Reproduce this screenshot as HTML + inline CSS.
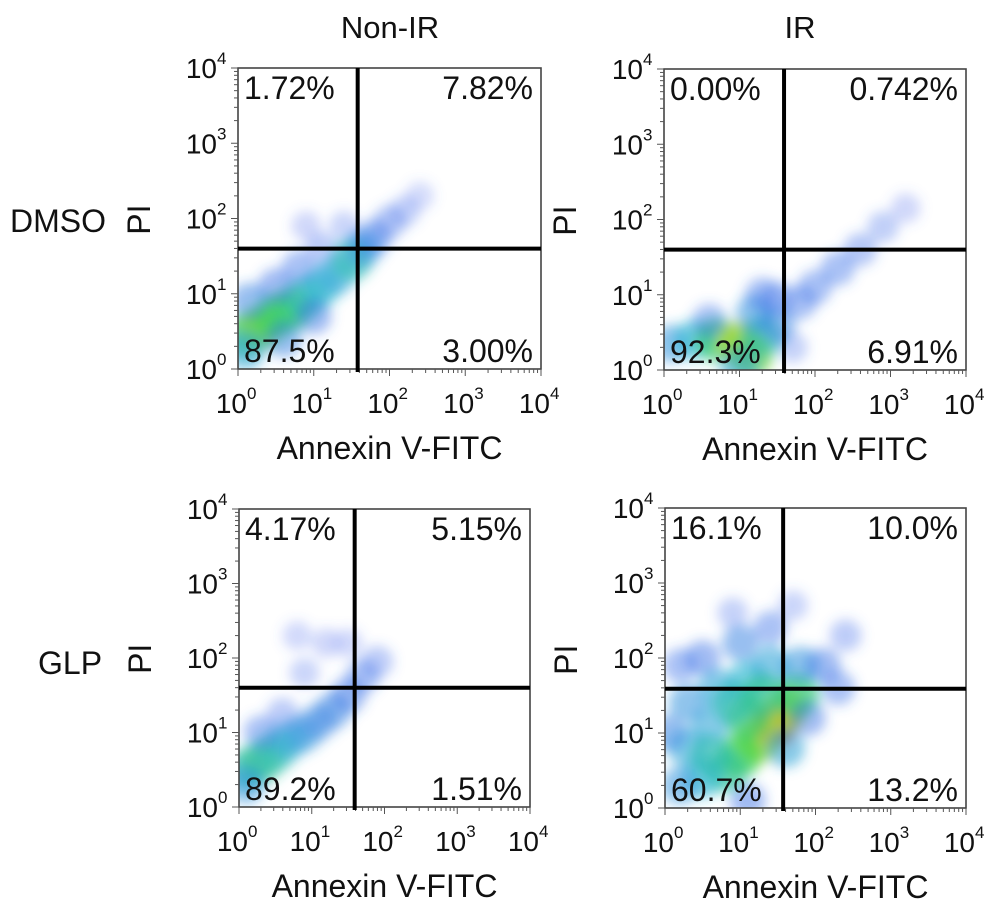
<!DOCTYPE html>
<html><head><meta charset="utf-8">
<style>
html,body{margin:0;padding:0;background:#fff;}
svg{display:block;font-family:"Liberation Sans",Arial,sans-serif;}
</style></head>
<body>
<svg id="fig" width="998" height="909" viewBox="0 0 998 909" xmlns="http://www.w3.org/2000/svg">
<defs>
<filter id="blur" x="-50%" y="-50%" width="200%" height="200%"><feGaussianBlur stdDeviation="6"/></filter>
</defs>
<text x="390" y="38" font-size="31" text-anchor="middle" fill="#111">Non-IR</text>
<text x="800" y="38" font-size="31" text-anchor="middle" fill="#111">IR</text>
<text x="10" y="232" font-size="32" fill="#111">DMSO</text>
<text x="38" y="674" font-size="32" fill="#111">GLP</text>
</svg>
<script>
// ---- data: density blobs (log10 Annexin, log10 PI, relative density) ----
const tlX=[0.1,0.3,0.5,0.7,0.9,1.1,1.3,1.5,1.65,1.8,2.0,2.2,0.15,0.5,0.8,1.1,0.9,1.4,0.1,0.6,1.0,2.4];
const tlY=[0.45,0.55,0.7,0.8,0.95,1.1,1.25,1.45,1.6,1.75,1.95,2.1,0.9,1.1,1.35,1.6,1.9,1.9,0.25,0.4,0.7,2.3];
const tlD=[0.7,0.8,0.75,0.7,0.6,0.55,0.5,0.6,0.45,0.35,0.25,0.15,0.4,0.35,0.3,0.2,0.1,0.12,0.5,0.4,0.35,0.06];

const trX=[0.1,0.4,0.7,1.0,1.15,1.3,1.2,1.5,1.5,1.8,2.0,2.3,2.6,2.9,3.2,1.0,0.6,1.7,1.3];
const trY=[0.35,0.4,0.4,0.35,0.2,0.45,0.75,0.6,0.95,0.9,1.1,1.35,1.6,1.9,2.15,0.05,0.65,0.3,1.0];
const trD=[0.45,0.55,0.7,0.85,0.8,0.6,0.45,0.4,0.3,0.3,0.3,0.3,0.25,0.18,0.1,0.5,0.3,0.15,0.3];

const blX=[0.1,0.3,0.5,0.7,0.9,1.1,1.3,1.5,1.7,1.9,0.3,0.6,0.9,1.2,0.8,1.5,0.1];
const blY=[0.5,0.6,0.75,0.9,1.0,1.15,1.3,1.5,1.75,1.95,1.0,1.25,1.8,2.2,2.3,2.2,0.3];
const blD=[0.6,0.65,0.6,0.5,0.45,0.4,0.4,0.35,0.3,0.2,0.3,0.2,0.12,0.1,0.08,0.08,0.45];

const brX=[1.45,1.6,1.75,1.25,1.0,0.8,0.5,0.2,0.3,0.6,0.3,0.7,1.1,1.4,1.8,2.1,2.3,1.9,2.4,1.0,0.5,0.2,1.4,0.9,1.7,1.1,0.05,1.1,0.9,1.3,0.6,1.6];
const brY=[1.1,1.3,1.5,0.9,0.7,0.5,0.4,0.3,0.8,1.1,1.4,1.6,1.7,1.9,1.9,1.9,1.6,1.2,2.3,2.2,2.0,1.9,2.4,2.6,2.7,0.1,1.0,1.2,1.4,1.5,0.7,0.8];
const brD=[1.0,0.85,0.7,0.85,0.75,0.65,0.55,0.45,0.5,0.5,0.45,0.5,0.55,0.5,0.45,0.35,0.3,0.35,0.2,0.4,0.35,0.3,0.3,0.15,0.12,0.35,0.4,0.7,0.6,0.65,0.6,0.5];

const tickLabels=["0","1","2","3","4"];
const tlPct=["1.72%","7.82%","87.5%","3.00%"];
const trPct=["0.00%","0.742%","92.3%","6.91%"];
const blPct=["4.17%","5.15%","89.2%","1.51%"];
const brPct=["16.1%","10.0%","60.7%","13.2%"];
// gate positions in log10 units [x, y]
const tlGate=[1.58,1.6];
const trGate=[1.59,1.6];
const blGate=[1.59,1.6];
const brGate=[1.57,1.59];

const NS="http://www.w3.org/2000/svg";
const svg=document.getElementById('fig');
const defs=svg.querySelector('defs');
function mk(tag,attrs,parent){const e=document.createElementNS(NS,tag);for(const k in attrs)e.setAttribute(k,attrs[k]);(parent||svg).appendChild(e);return e;}

function cmap(d){
  const stops=[[0,[90,110,240]],[0.35,[50,110,230]],[0.55,[40,180,210]],[0.75,[60,210,80]],[0.9,[225,220,40]],[1,[225,60,30]]];
  for(let i=1;i<stops.length;i++){if(d<=stops[i][0]){const a=stops[i-1],b=stops[i];const t=(d-a[0])/(b[0]-a[0]);
    const c=a[1].map((v,j)=>Math.round(v+(b[1][j]-v)*t));return `rgb(${c[0]},${c[1]},${c[2]})`;}}
  return 'rgb(225,60,30)';
}

let pid=0;
function panel(p){
  const g=mk('g',{});
  
  
  const sx=v=>p.l+(p.r-p.l)*v/4;
  const sy=v=>p.b-(p.b-p.t)*v/4;
  const cid='clip'+(pid++);
  const cp=mk('clipPath',{id:cid},defs);
  mk('rect',{x:p.l,y:p.t,width:p.r-p.l,height:p.b-p.t},cp);
  const clipG=mk('g',{'clip-path':`url(#${cid})`},g);
  const cloud=mk('g',{filter:'url(#blur)'},clipG);
  
  
  for(let i=0;i<p.xs.length;i++){
    const d=p.ds[i];
    const c=mk('circle',{cx:sx(p.xs[i]),cy:sy(p.ys[i]),r:10+12*Math.min(1,d+0.3),fill:cmap(d),'fill-opacity':Math.min(0.9,0.2+d*0.75)},cloud);
    
    
  }
  const fr=mk('rect',{x:p.l,y:p.t,width:p.r-p.l,height:p.b-p.t,fill:'none',stroke:'#444','stroke-width':1.6},g);
  
  
  for(let k=0;k<4;k++){
    for(let m=1;m<10;m++){
      const v=k+Math.log10(m);
      const len=m===1?7:4;
      mk('line',{x1:sx(v),x2:sx(v),y1:p.b,y2:p.b+len,stroke:'#555','stroke-width':1},g);
      mk('line',{x1:p.l-len,x2:p.l,y1:sy(v),y2:sy(v),stroke:'#555','stroke-width':1},g);
    }
  }
  mk('line',{x1:sx(4),x2:sx(4),y1:p.b,y2:p.b+7,stroke:'#555','stroke-width':1},g);
  mk('line',{x1:p.l-7,x2:p.l,y1:sy(4),y2:sy(4),stroke:'#555','stroke-width':1},g);
  for(let i=0;i<tickLabels.length;i++){
    const v=+tickLabels[i];
    const xt=mk('text',{x:sx(v)+9,y:p.b+44,'font-size':28,'text-anchor':'end',fill:'#111'},g);
    xt.textContent='10';
    
    
    const xs=mk('text',{x:sx(v)+9,y:p.b+30,'font-size':17,fill:'#111'},g);
    xs.textContent=tickLabels[i];
    
    
    const yt=mk('text',{x:p.l-21,y:sy(v)+10,'font-size':28,'text-anchor':'end',fill:'#111'},g);
    yt.textContent='10';
    
    
    const ys=mk('text',{x:p.l-21,y:sy(v)-4,'font-size':17,fill:'#111'},g);
    ys.textContent=tickLabels[i];
    
    
  }
  const gx=sx(p.gate[0]), gy=sy(p.gate[1]);
  const vl=mk('line',{x1:gx,x2:gx,y1:p.t,y2:p.b+3,stroke:'#000','stroke-width':4},g);
  
  
  const hl=mk('line',{x1:p.l,x2:p.r,y1:gy,y2:gy,stroke:'#000','stroke-width':4},g);
  
  
  const pos=[[p.l+6,p.t+31,'start'],[p.r-8,p.t+31,'end'],[p.l+6,p.b-7,'start'],[p.r-8,p.b-7,'end']];
  const names=['upper-left-percent','upper-right-percent','lower-left-percent','lower-right-percent'];
  for(let i=0;i<4;i++){
    const t=mk('text',{x:pos[i][0],y:pos[i][1],'font-size':32,'text-anchor':pos[i][2],fill:'#111'},g);
    t.textContent=p.pct[i];
    
    
  }
  const xa=mk('text',{x:(p.l+p.r)/2,y:p.b+90,'font-size':32,'text-anchor':'middle',fill:'#111'},g);
  xa.textContent='Annexin V-FITC';
  
  
  const yx=p.l-88, yy=gy-29;
  const ya=mk('text',{x:yx,y:yy,'font-size':32,'text-anchor':'middle',transform:`rotate(-90 ${yx} ${yy})`,fill:'#111'},g);
  ya.textContent='PI';
  
  
}

panel({name:'dmso-non-ir-plot',l:238,r:541,t:68,b:369,xs:tlX,ys:tlY,ds:tlD,pct:tlPct,gate:tlGate});
panel({name:'dmso-ir-plot',l:664,r:966,t:69,b:370,xs:trX,ys:trY,ds:trD,pct:trPct,gate:trGate});
panel({name:'glp-non-ir-plot',l:239,r:530,t:509,b:807,xs:blX,ys:blY,ds:blD,pct:blPct,gate:blGate});
panel({name:'glp-ir-plot',l:665,r:966,t:508,b:808,xs:brX,ys:brY,ds:brD,pct:brPct,gate:brGate});
</script>
</body></html>
